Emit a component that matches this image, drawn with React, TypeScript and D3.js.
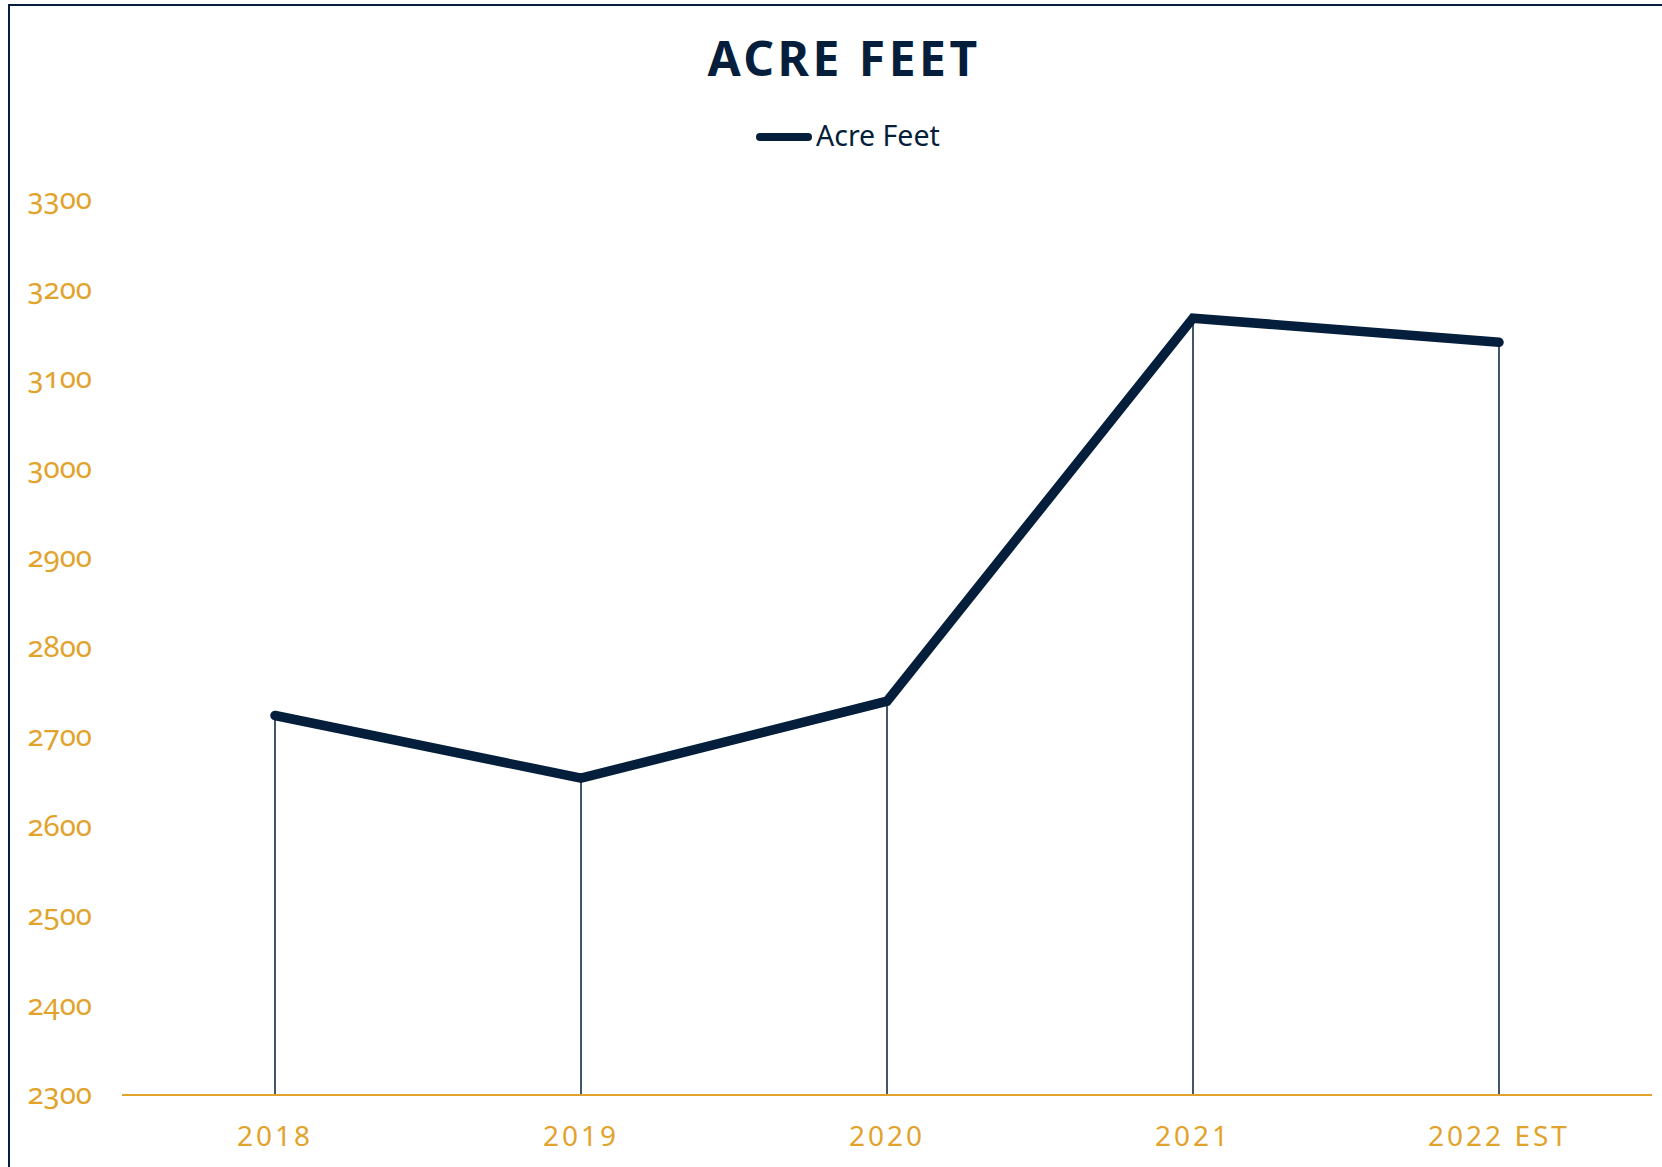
import React from "react";
import * as d3 from "d3";

const categories = ["2018", "2019", "2020", "2021", "2022 EST"];
const acreFeet = [2724, 2654, 2740, 3168, 3141];
const yTicks = [2300, 2400, 2500, 2600, 2700, 2800, 2900, 3000, 3100, 3200, 3300];
const title = "ACRE FEET";
const seriesName = "Acre Feet";

const W = 1662;
const H = 1167;
const NAVY = "#041E3B";
const ORANGE = "#E2A32C";
const FONT = "'Noto Sans', 'Open Sans', sans-serif";

export default function App() {
  const x = d3.scalePoint<string>().domain(categories).range([122, 1652]).padding(0.5);
  const y = d3.scaleLinear().domain([2300, 3300]).range([1095, 200]);
  const data = categories.map((c, i) => ({ c, v: acreFeet[i] }));
  const line = d3
    .line<{ c: string; v: number }>()
    .x((d) => x(d.c) as number)
    .y((d) => y(d.v));

  return (
    <svg
      width={W}
      height={H}
      style={{ position: "fixed", left: 0, top: 0, background: "#fff" }}
      fontFamily={FONT}
    >
      <rect x={9} y={5} width={W + 20} height={H + 20} fill="#fff" stroke={NAVY} strokeWidth={2} />
      <text
        x={844}
        y={76}
        textAnchor="middle"
        fontSize={48}
        fontWeight={700}
        letterSpacing={3.5}
        fill={NAVY}
      >
        {title}
      </text>
      <line x1={760} x2={808} y1={137} y2={137} stroke={NAVY} strokeWidth={8} strokeLinecap="round" />
      <text x={816} y={146} fontSize={28.5} fill={NAVY}>
        {seriesName}
      </text>

      {yTicks.map((t) => (
        <text
          key={t}
          x={92}
          y={y(t) + 9}
          textAnchor="end"
          fontSize={29.5}
          fill={ORANGE}
          style={{ fontVariantNumeric: "oldstyle-nums" }}
        >
          {t}
        </text>
      ))}

      {data.map((d) => (
        <line
          key={"drop" + d.c}
          x1={x(d.c)}
          x2={x(d.c)}
          y1={y(d.v)}
          y2={y(2300)}
          stroke={NAVY}
          strokeWidth={1.5}
        />
      ))}

      <line x1={122} x2={1652} y1={y(2300)} y2={y(2300)} stroke={ORANGE} strokeWidth={2} />

      {categories.map((c) => (
        <text
          key={c}
          x={x(c)}
          y={1146}
          textAnchor="middle"
          fontSize={28}
          letterSpacing={3}
          fill={ORANGE}
        >
          {c}
        </text>
      ))}

      <path d={line(data) || ""} fill="none" stroke={NAVY} strokeWidth={9.5} strokeLinecap="round" strokeLinejoin="miter" />
    </svg>
  );
}
